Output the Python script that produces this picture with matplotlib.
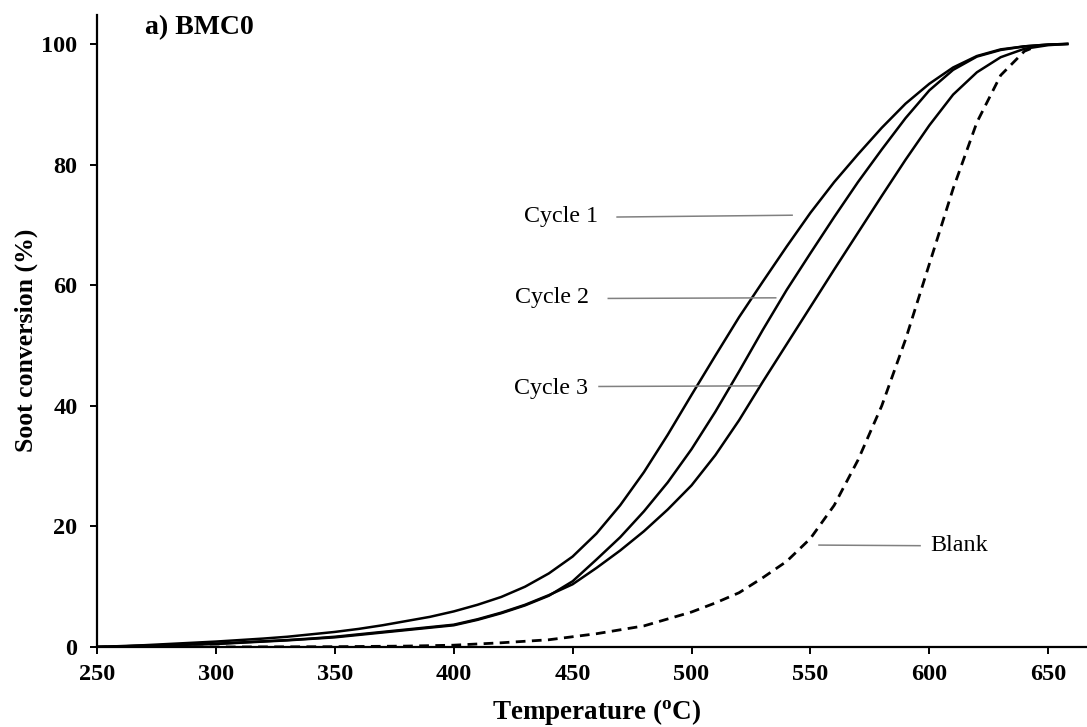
import matplotlib
matplotlib.use("Agg")
import matplotlib.pyplot as plt

plt.rcParams['font.family'] = ['Liberation Serif', 'DejaVu Serif']
plt.rcParams['mathtext.fontset'] = 'custom'
plt.rcParams['mathtext.rm'] = 'Liberation Serif'
plt.rcParams['mathtext.bf'] = 'Liberation Serif:bold'

temp_c1 = [250, 260, 270, 280, 290, 300, 310, 320, 330, 340, 350, 360, 370, 380, 390, 400,
           410, 420, 430, 440, 450, 460, 470, 480, 490, 500, 510, 520, 530, 540, 550, 560,
           570, 580, 590, 600, 610, 620, 630, 640, 650, 658]
cycle1 = [0, 0.15, 0.3, 0.5, 0.7, 0.9, 1.15, 1.4, 1.7, 2.1, 2.5, 3.0, 3.6, 4.3, 5.0, 5.9,
          7.0, 8.3, 10.0, 12.2, 15.0, 18.8, 23.5, 29.0, 35.2, 41.8, 48.3, 54.7, 60.6, 66.4, 72.0, 77.1,
          81.7, 86.1, 90.1, 93.4, 96.1, 98.0, 99.1, 99.6, 99.9, 100]

temp_c2 = temp_c1
cycle2 = [0, 0.1, 0.2, 0.3, 0.4, 0.5, 0.7, 0.9, 1.1, 1.35, 1.6, 2.0, 2.4, 2.8, 3.2, 3.6,
          4.5, 5.6, 6.9, 8.5, 10.9, 14.5, 18.2, 22.5, 27.3, 32.8, 39.0, 45.7, 52.6, 59.2, 65.3, 71.3,
          77.1, 82.5, 87.7, 92.3, 95.7, 97.9, 99.0, 99.6, 99.9, 100]

temp_c3 = temp_c1
cycle3 = [0, 0.1, 0.2, 0.35, 0.45, 0.55, 0.75, 0.95, 1.15, 1.4, 1.7, 2.1, 2.5, 2.9, 3.3, 3.7,
          4.6, 5.7, 7.0, 8.6, 10.4, 13.1, 16.0, 19.2, 22.8, 26.8, 31.8, 37.6, 44.0, 50.2, 56.4, 62.6,
          68.7, 74.8, 80.8, 86.5, 91.6, 95.3, 97.8, 99.2, 99.8, 100]

temp_blank = [250, 300, 350, 380, 400, 420, 440, 460, 480, 500, 510, 520, 530, 540, 550, 560,
              570, 580, 590, 600, 610, 620, 630, 640, 645]
blank = [0, 0, 0.05, 0.15, 0.3, 0.7, 1.2, 2.2, 3.5, 5.8, 7.3, 9.0, 11.5, 14.2, 18.0, 23.5,
         31.0, 40.0, 51.0, 63.5, 76.0, 87.0, 94.8, 98.8, 99.6]

x_ticks = [250, 300, 350, 400, 450, 500, 550, 600, 650]
y_ticks = [0, 20, 40, 60, 80, 100]

fig = plt.figure(figsize=(10.87, 7.27), dpi=100)
ax = fig.add_axes([97 / 1087, 80 / 727, 990 / 1087, 632 / 727])

ax.plot(temp_c1, cycle1, color='black', lw=1.8)
ax.plot(temp_c2, cycle2, color='black', lw=1.8)
ax.plot(temp_c3, cycle3, color='black', lw=1.8)
ax.plot(temp_blank, blank, color='black', lw=2.0, linestyle=(0, (3.5, 2.3)))

ax.set_xlim(250, 666.3)
ax.set_ylim(0, 104.8)
ax.set_xticks(x_ticks)
ax.set_yticks(y_ticks)

for s in ['top', 'right']:
    ax.spines[s].set_visible(False)
for s in ['left', 'bottom']:
    ax.spines[s].set_linewidth(1.6)

ax.tick_params(direction='out', length=5, width=1.4, labelsize=17.5)
ax.tick_params(axis='x', pad=7)
ax.tick_params(axis='y', pad=9)
for lab in ax.get_xticklabels() + ax.get_yticklabels():
    lab.set_fontweight('bold')

ax.set_xlabel(r'Temperature ($\mathbf{^{o}}$C)', fontsize=19.5, fontweight='bold')
ax.set_ylabel('Soot conversion (%)', fontsize=18.5, fontweight='bold')
ax.xaxis.set_label_coords(0.505, -0.079)
ax.yaxis.set_label_coords(-0.06, 0.486)

ax.text(270.2, 102.7, 'a) BMC0', fontsize=20, fontweight='bold', ha='left', va='center')

lead = dict(color='#808080', lw=1.1)
ax.text(460.7, 71.4, 'Cycle 1', fontsize=17.3, ha='right', va='center')
ax.plot([468.7, 542.3], [71.3, 71.6], **lead)
ax.text(456.9, 57.9, 'Cycle 2', fontsize=17.3, ha='right', va='center')
ax.plot([465.0, 535.4], [57.8, 57.9], **lead)
ax.text(456.5, 42.9, 'Cycle 3', fontsize=17.3, ha='right', va='center')
ax.plot([461.1, 528.1], [43.2, 43.3], **lead)
ax.text(600.3, 16.75, 'Blank', fontsize=17.3, ha='left', va='center')
ax.plot([553.6, 596.1], [16.9, 16.8], **lead)

fig.savefig('out.png', dpi=100)
